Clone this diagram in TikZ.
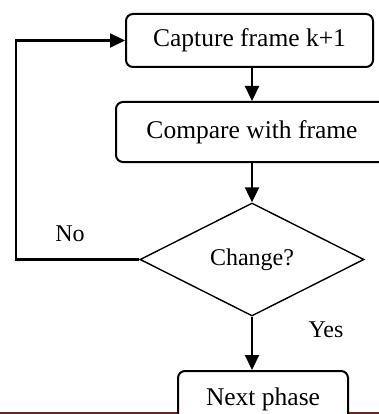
\documentclass[tikz,border=0pt]{standalone}
\usepackage{fontspec}
\setmainfont{Liberation Serif}
\usetikzlibrary{shapes.geometric, arrows.meta, positioning}
\definecolor{barred}{HTML}{6B2323}

\begin{document}
\begin{tikzpicture}[x=1pt, y=-1pt,
  stepbox/.style={draw, line width=2pt, rounded corners=7pt, fill=white,
    inner sep=0pt, font=\fontsize{25.5}{30}\selectfont},
  choice/.style={draw, diamond, line width=1.4pt, inner sep=0pt,
    minimum width=224pt, minimum height=113pt, font=\fontsize{24}{28}\selectfont},
  flow/.style={line width=2.2pt, -{Triangle[width=14pt,length=15pt]}},
  lbl/.style={font=\fontsize{24}{28}\selectfont, inner sep=0pt}]
\useasboundingbox (0,0) rectangle (379,414);
\begin{scope}
\clip (0,0) rectangle (379,414);
% bar along the lower edge
\draw[barred, line width=3pt] (0,413) -- (379,413);
\node[stepbox, minimum width=247pt, minimum height=53pt] (cap) at (249.5,40.5) {Capture frame k+1};
\node[stepbox, minimum width=272pt, minimum height=60pt] (cmp) at (252,132) {Compare with frame};
\node[choice] (chg) at (252,259.5) {Change?};
\node[stepbox, minimum width=170pt, minimum height=56pt] (nxt) at (263,399) {Next phase};
\coordinate (loop) at (16,40.5);
\draw[flow] (cap.south -| chg.north) -- (cmp.north -| chg.north);
\draw[flow] (cmp.south -| chg.north) -- (chg.north);
\draw[flow] (chg.south) -- (chg.south |- nxt.north);
\draw[flow] (chg.west) -| (loop) -- (cap.west);
\node[lbl] (no) at (70,234) {No};
\node[lbl] (yes) at (326,330) {Yes};
\end{scope}
\end{tikzpicture}
\end{document}
